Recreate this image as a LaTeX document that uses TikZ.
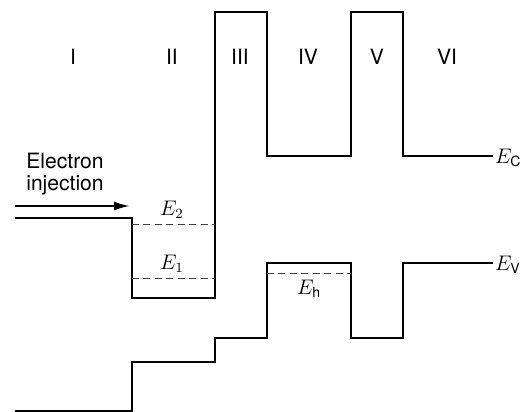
\documentclass[tikz,border=0pt]{standalone}
\usepackage{amsmath}
\usepackage{fontspec}
\setmainfont{TeX Gyre Heros}
\usetikzlibrary{arrows.meta}
\begin{document}
\begin{tikzpicture}[x=0.02cm,y=-0.02cm]
% Styles
\tikzstyle{bande}=[line width=1.2pt,line join=miter]
\tikzstyle{niveau}=[dash pattern=on 4pt off 2.5pt,line width=0.5pt,black!75]
\tikzstyle{fleche}=[-{Latex[length=9pt,width=5pt]},line width=1.2pt]
\tikzstyle{region}=[font=\fontsize{12}{12.7}\selectfont,inner sep=0pt]
\tikzstyle{etiquette}=[font=\fontsize{12}{12.7}\selectfont,inner sep=1pt]
% Dimensions
\def\Xa{15}
\def\Xb{132}
\def\Xc{215}
\def\Xd{267}
\def\Xe{351}
\def\Xf{403}
\def\Xg{493}
\def\Haut{12}
\def\Injection{218}
\def\PuitsC{298}
\def\BandeC{156}
\def\BandeV{263}
\def\MarcheA{411}
\def\MarcheB{362}
\def\MarcheC{338}
\useasboundingbox (0,0) rectangle (529,412);
% Bandes
\draw[bande] (\Xa,\Injection)--(\Xb,\Injection)--(\Xb,\PuitsC)--(\Xc,\PuitsC)
  --(\Xc,\Haut)--(\Xd,\Haut)--(\Xd,\BandeC)--(\Xe,\BandeC)--(\Xe,\Haut)
  --(\Xf,\Haut)--(\Xf,\BandeC)--(\Xg,\BandeC);
\draw[bande] (\Xa,\MarcheA)--(\Xb,\MarcheA)--(\Xb,\MarcheB)--(\Xc,\MarcheB)
  --(\Xc,\MarcheC)--(\Xd,\MarcheC)--(\Xd,\BandeV)--(\Xe,\BandeV)--(\Xe,\MarcheC)
  --(\Xf,\MarcheC)--(\Xf,\BandeV)--(\Xg,\BandeV);
% Niveaux
\draw[niveau] (\Xb,224)--(\Xc,224);
\draw[niveau] (\Xb,278)--(\Xc,278);
\draw[niveau] (\Xd,273)--(\Xe,273);
% Regions
\node[region] (I) at (73,57) {I};
\node[region] (II) at (172,57) {II};
\node[region] (III) at (240,57) {III};
\node[region] (IV) at (308,57) {IV};
\node[region] (V) at (377,57) {V};
\node[region] (VI) at (447,57) {VI};
% Etiquettes
\node[etiquette] (E2) at (172,210) {$E_2$};
\node[etiquette] (E1) at (172,264) {$E_1$};
\node[etiquette] (Eh) at (309,289) {$E_\text{h}$};
\node[etiquette,anchor=west] (EC) at (\Xg,158) {$E_\text{C}$};
\node[etiquette,anchor=west] (EV) at (\Xg,265) {$E_\text{V}$};
\node[etiquette,align=center] (Inj) at (65,174) {Electron\\injection};
% Fleche
\coordinate (Da) at (\Xa,206);
\coordinate (Db) at (130,206);
\draw[fleche] (Da)--(Db);
\end{tikzpicture}
\end{document}
